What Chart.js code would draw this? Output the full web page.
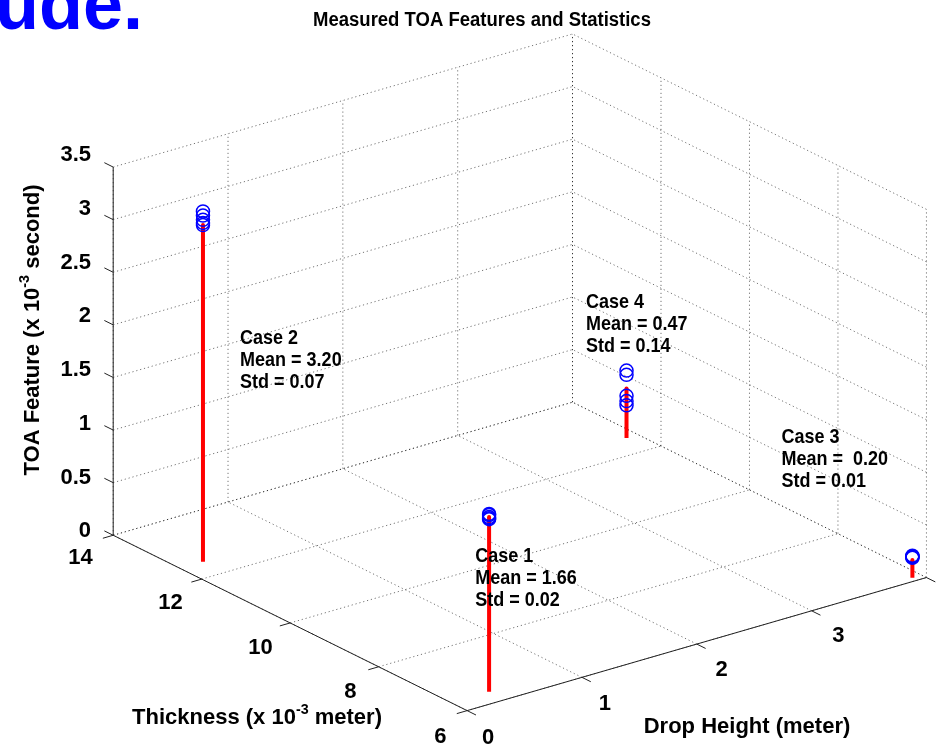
<!DOCTYPE html>
<html>
<head>
<meta charset="utf-8">
<script src="https://cdn.jsdelivr.net/npm/chart.js@4.4.0/dist/chart.umd.min.js"></script>
<style>
html, body { margin: 0; padding: 0; background: #fff; }
#wrap { width: 949px; height: 747px; }
</style>
</head>
<body>
<div id="wrap"><canvas id="chart" width="949" height="747"></canvas></div>
<script>
// axis limits and ticks
const dropTicks = [0, 1, 2, 3, 4];
const thickTicks = [6, 8, 10, 12, 14];
const toaTicks = [0, 0.5, 1, 1.5, 2, 2.5, 3, 3.5];
const dropLim = [0, 4];
const thickLim = [6, 14];
const toaLim = [0, 3.5];

// measured cases (drop height m, thickness mm, TOA x1e-3 s)
const caseNames = ['Case 1', 'Case 2', 'Case 3', 'Case 4'];
const caseDrop = [0.33, 0.20, 3.92, 3.90];
const caseThick = [6.36, 12.49, 6.11, 12.52];
const caseMeans = [1.66, 3.20, 0.20, 0.47];
const caseStds = [0.02, 0.07, 0.01, 0.14];
const stemTops = [1.66, 3.20, 0.17, 0.47];
const caseValues = [
    [1.69, 1.68, 1.66, 1.65, 1.64],
    [3.33, 3.29, 3.25, 3.22, 3.20],
    [0.21, 0.20, 0.20, 0.19, 0.20],
    [0.64, 0.60, 0.40, 0.35, 0.31]
];

// where each note is anchored (drop, thickness, toa)
const noteDrop = [0.21, 0.60, 2.97, 3.53];
const noteThick = [6.36, 12.6, 6.72, 12.52];
const noteToa = [1.31, 1.91, 1.47, 1.34];

// orthographic view: screen offset per unit of each axis
const view = {
    origin: [467, 718],
    drop: [116.8, -34.0],
    thick: [-45.0, -22.4],
    toa: [0, -107.5]
};

function project(d, t, z) {
    const k = t - thickLim[0];
    return {
        x: view.origin[0] + d * view.drop[0] + k * view.thick[0],
        y: view.origin[1] + d * view.drop[1] + k * view.thick[1] + z * view.toa[1]
    };
}

function segments(list) {
    const pts = [];
    list.forEach(seg => {
        pts.push(project(...seg[0]), project(...seg[1]), { x: null, y: null });
    });
    return pts;
}

// grid on floor and the two back walls
let gridSegs = [];
dropTicks.forEach(d => {
    gridSegs.push([[d, thickLim[0], 0], [d, thickLim[1], 0]]);
    gridSegs.push([[d, thickLim[1], toaLim[0]], [d, thickLim[1], toaLim[1]]]);
});
thickTicks.forEach(t => {
    gridSegs.push([[dropLim[0], t, 0], [dropLim[1], t, 0]]);
    gridSegs.push([[dropLim[1], t, toaLim[0]], [dropLim[1], t, toaLim[1]]]);
});
toaTicks.forEach(z => {
    gridSegs.push([[dropLim[0], thickLim[1], z], [dropLim[1], thickLim[1], z]]);
    gridSegs.push([[dropLim[1], thickLim[0], z], [dropLim[1], thickLim[1], z]]);
});

// solid axes and tick marks
let axisSegs = [
    [[0, thickLim[1], 0], [0, thickLim[0], 0]],
    [[0, thickLim[0], 0], [dropLim[1], thickLim[0], 0]],
    [[0, thickLim[1], toaLim[0]], [0, thickLim[1], toaLim[1]]]
];
toaTicks.forEach(z => axisSegs.push([[0, thickLim[1], z], [0, thickLim[1] + 0.2, z]]));
thickTicks.forEach(t => axisSegs.push([[0, t, 0], [-0.09, t, 0]]));
dropTicks.forEach(d => axisSegs.push([[d, thickLim[0], 0], [d, thickLim[0] - 0.2, 0]]));

const stemSegs = caseNames.map((n, i) => [[caseDrop[i], caseThick[i], 0], [caseDrop[i], caseThick[i], stemTops[i]]]);

const circlePts = [];
caseValues.forEach((vals, i) => vals.forEach(v => circlePts.push(project(caseDrop[i], caseThick[i], v))));
const topPts = caseNames.map((n, i) => project(caseDrop[i], caseThick[i], stemTops[i]));

const FONT = '"Liberation Sans", Arial, Helvetica, sans-serif';

function richWidth(ctx, parts, size) {
    let w = 0;
    parts.forEach(p => {
        ctx.font = 'bold ' + (p.sup ? size * 0.65 : size) + 'px ' + FONT;
        w += ctx.measureText(p.t).width;
    });
    return w;
}

function drawRich(ctx, parts, cx, y, size) {
    let x = cx - richWidth(ctx, parts, size) / 2;
    parts.forEach(p => {
        ctx.font = 'bold ' + (p.sup ? size * 0.65 : size) + 'px ' + FONT;
        ctx.fillText(p.t, x, p.sup ? y - size * 0.45 : y);
        x += ctx.measureText(p.t).width;
    });
}

// matlab's helvetica is a bit taller than liberation at the same width
function tallText(ctx, str, x, y, stretch) {
    ctx.save();
    ctx.translate(x, y);
    ctx.scale(1, stretch);
    ctx.fillText(str, 0, 0);
    ctx.restore();
}

const textPlugin = {
    id: 'textPlugin',
    afterDraw(chart) {
        const ctx = chart.ctx;
        ctx.save();
        ctx.fillStyle = '#000';

        // tick labels
        ctx.font = 'bold 22px ' + FONT;
        ctx.textAlign = 'right';
        ctx.textBaseline = 'middle';
        toaTicks.forEach(z => {
            const p = project(0, thickLim[1] + 0.2, z);
            ctx.fillText(String(z), p.x - 7, p.y - 3);
        });
        ctx.textAlign = 'center';
        thickTicks.forEach(t => {
            const p = project(-0.09, t, 0);
            ctx.fillText(String(t), p.x - 16, p.y + 16);
        });
        dropTicks.forEach(d => {
            const p = project(d, thickLim[0] - 0.2, 0);
            ctx.fillText(String(d), p.x + 12, p.y + 15);
        });

        // axis labels
        ctx.textAlign = 'left';
        ctx.textBaseline = 'alphabetic';
        drawRich(ctx, [{ t: 'Thickness (x 10' }, { t: '-3', sup: true }, { t: ' meter)' }], 257, 724, 22);
        drawRich(ctx, [{ t: 'Drop Height (meter)' }], 747, 733, 22);
        ctx.save();
        ctx.translate(39, 330);
        ctx.rotate(-Math.PI / 2);
        drawRich(ctx, [{ t: 'TOA Feature (x 10' }, { t: '-3', sup: true }, { t: ' second)' }], 0, 0, 22);
        ctx.restore();

        // title
        ctx.font = 'bold 18.5px ' + FONT;
        ctx.textAlign = 'center';
        tallText(ctx, 'Measured TOA Features and Statistics', 482, 26, 1.12);

        // case notes
        ctx.font = 'bold 18px ' + FONT;
        ctx.textAlign = 'left';
        caseNames.forEach((name, i) => {
            const p = project(noteDrop[i], noteThick[i], noteToa[i]);
            const sep = i === 2 ? '  ' : ' ';
            const lines = [name, 'Mean =' + sep + caseMeans[i].toFixed(2), 'Std = ' + caseStds[i].toFixed(2)];
            lines.forEach((ln, j) => tallText(ctx, ln, p.x, p.y + j * 22, 1.1));
        });

        // slide text bleeding in at the top left
        ctx.fillStyle = '#0000ff';
        ctx.font = 'bold 72px ' + FONT;
        ctx.textAlign = 'right';
        ctx.fillText('ude.', 143, 29);
        ctx.restore();
    }
};

const lineDefaults = { showLine: true, pointRadius: 0, spanGaps: false, fill: false };

new Chart(document.getElementById('chart').getContext('2d'), {
    type: 'scatter',
    data: {
        datasets: [
            { data: circlePts, showLine: false, pointRadius: 6.5, pointStyle: 'circle',
                pointBorderColor: '#0000ff', pointBackgroundColor: 'rgba(0,0,0,0)', pointBorderWidth: 1.5, order: 1 },
            { data: topPts, showLine: false, pointRadius: 2, pointBorderWidth: 0,
                pointBackgroundColor: '#ff0000', order: 2 },
            Object.assign({ data: segments(stemSegs), borderColor: '#ff0000', borderWidth: 4, order: 3 }, lineDefaults),
            Object.assign({ data: segments(axisSegs), borderColor: '#222', borderWidth: 1, order: 4 }, lineDefaults),
            Object.assign({ data: segments(gridSegs), borderColor: 'rgba(0,0,0,0.55)', borderWidth: 1,
                borderDash: [1.2, 2.8], order: 5 }, lineDefaults)
        ]
    },
    options: {
        responsive: false,
        animation: false,
        events: [],
        layout: { padding: 0 },
        plugins: { legend: { display: false }, tooltip: { enabled: false }, title: { display: false } },
        scales: {
            x: { type: 'linear', min: 0, max: 949, display: false },
            y: { type: 'linear', min: 0, max: 747, reverse: true, display: false }
        }
    },
    plugins: [textPlugin]
});
</script>
</body>
</html>
